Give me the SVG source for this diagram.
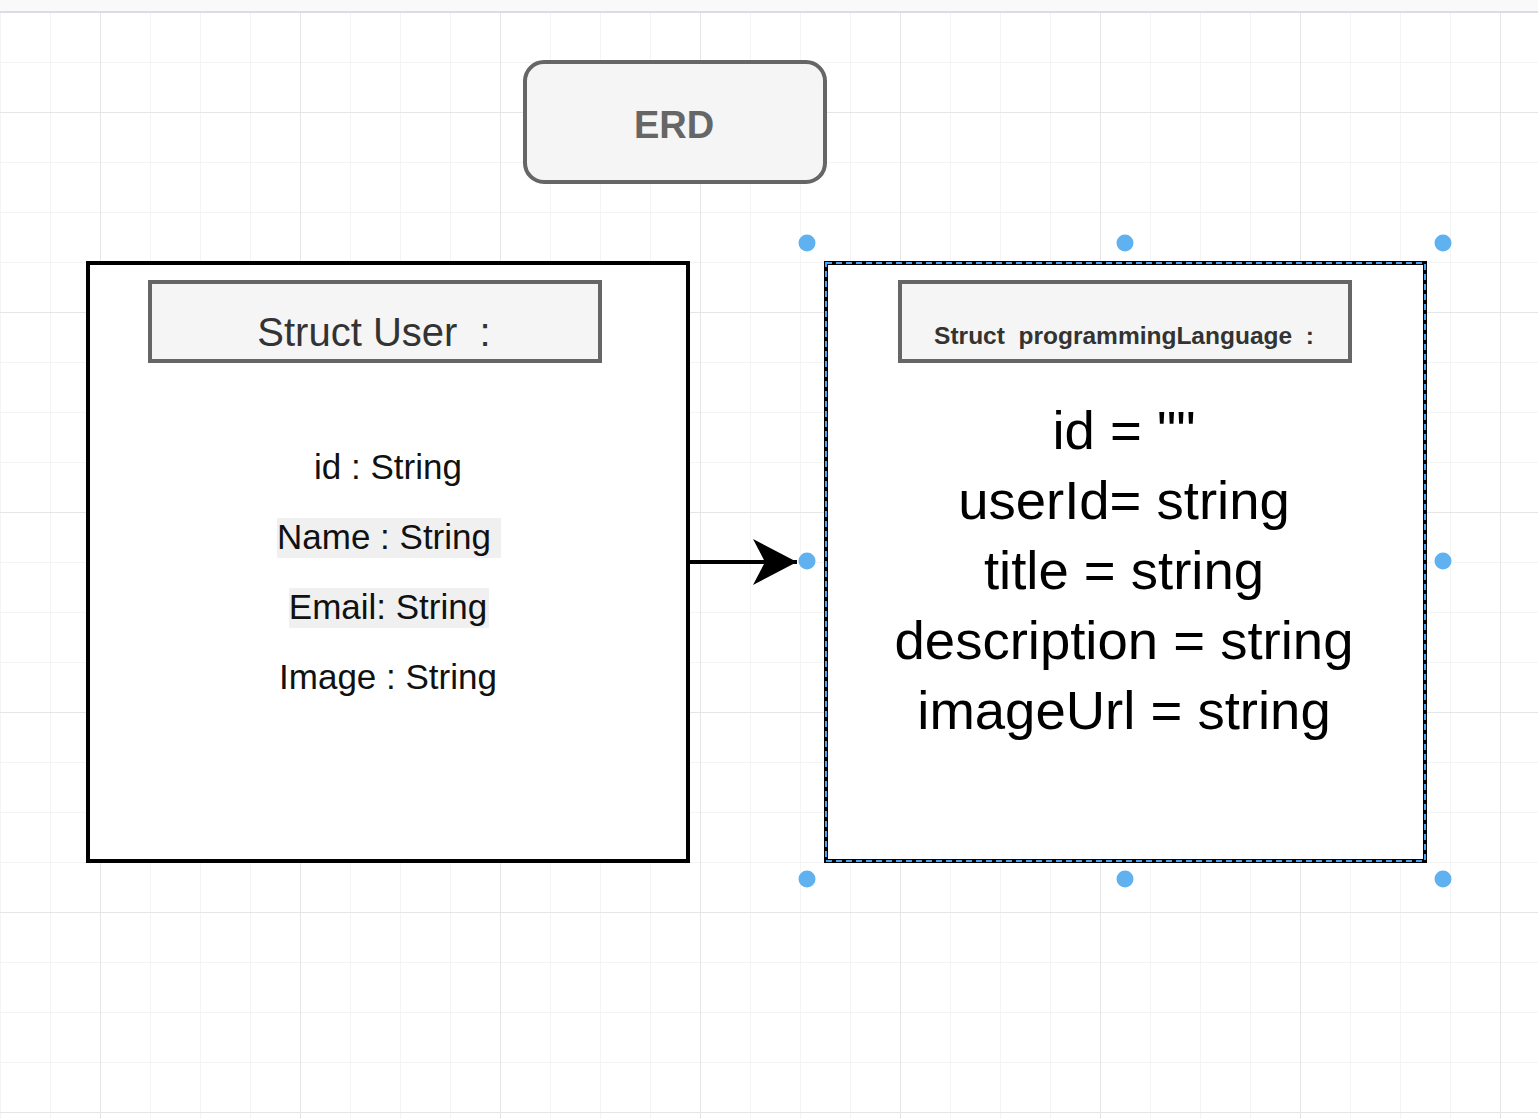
<svg xmlns="http://www.w3.org/2000/svg" width="1538" height="1119" viewBox="0 0 1538 1119">
<style>
.t{font-family:"Liberation Sans",Arial,Helvetica,sans-serif;text-anchor:middle}
.hdr{fill:#f5f5f5;stroke:#666;stroke-width:4}
.box{fill:#fff;stroke:#000;stroke-width:4}
.handle{fill:#5fb1ef}
</style>
<defs>
<pattern id="minor" patternUnits="userSpaceOnUse" x="0" y="12" width="50" height="50">
<path d="M0 0H50M0 0V50" fill="none" stroke="#f4f4f4" stroke-width="2"/>
</pattern>
<pattern id="major" patternUnits="userSpaceOnUse" x="100" y="112" width="200" height="200">
<path d="M0 0H200M0 0V200" fill="none" stroke="#e6e6e6" stroke-width="2"/>
</pattern>
<marker id="arrow" viewBox="0 0 44 46" refX="44" refY="23" markerWidth="44" markerHeight="46" markerUnits="userSpaceOnUse" orient="auto">
<path d="M44 23L0 0L12 23L0 46Z" fill="#000"/>
</marker>
</defs>
<rect width="1538" height="1119" fill="#fff"/>
<rect y="12" width="1538" height="1107" fill="url(#minor)"/>
<rect y="12" width="1538" height="1107" fill="url(#major)"/>
<rect width="1538" height="11" fill="#f9f9fa"/>
<line x1="0" y1="12" x2="1538" y2="12" stroke="#dcdbe2" stroke-width="2"/>

<g id="connectors">
<line x1="690" y1="562" x2="797" y2="562" stroke="#000" stroke-width="4" marker-end="url(#arrow)"/>
</g>

<g id="node-erd">
<rect x="525" y="62" width="300" height="120" rx="19" class="hdr"/>
<text x="674" y="138" class="t" font-size="38" font-weight="bold" fill="#666">ERD</text>
</g>

<g id="node-user">
<rect x="88" y="263" width="600" height="598" class="box"/>
<g id="node-user-header">
<rect x="150" y="282" width="450" height="79" class="hdr"/>
<text x="374" y="346" class="t" font-size="40" fill="#333" xml:space="preserve">Struct User  :</text>
</g>
<rect x="277" y="518" width="224" height="40" fill="#f0f0f0"/>
<rect x="289" y="588" width="200" height="40" fill="#f0f0f0"/>
<g class="t" font-size="35" fill="#111">
<text x="388" y="479">id : String</text>
<text x="384" y="549">Name : String</text>
<text x="388" y="619">Email: String</text>
<text x="388" y="689">Image : String</text>
</g>
</g>

<g id="node-proglang">
<rect x="826" y="263" width="599" height="598" class="box"/>
<rect x="826" y="263" width="599" height="598" fill="none" stroke="#4ba3f0" stroke-width="2" stroke-dasharray="6 4"/>
<g id="node-proglang-header">
<rect x="900" y="282" width="450" height="79" class="hdr"/>
<text x="1124" y="344" class="t" font-size="24.5" font-weight="bold" fill="#333" xml:space="preserve">Struct  programmingLanguage  :</text>
</g>
<g class="t" font-size="54.5" fill="#000">
<text x="1124" y="449">id = &quot;&quot;</text>
<text x="1124" y="519">userId= string</text>
<text x="1124" y="589">title = string</text>
<text x="1124" y="659">description = string</text>
<text x="1124" y="729">imageUrl = string</text>
</g>
<g id="selection-handles">
<circle cx="807" cy="243" r="8.5" class="handle"/>
<circle cx="1125" cy="243" r="8.5" class="handle"/>
<circle cx="1443" cy="243" r="8.5" class="handle"/>
<circle cx="807" cy="561" r="8.5" class="handle"/>
<circle cx="1443" cy="561" r="8.5" class="handle"/>
<circle cx="807" cy="879" r="8.5" class="handle"/>
<circle cx="1125" cy="879" r="8.5" class="handle"/>
<circle cx="1443" cy="879" r="8.5" class="handle"/>
</g>
</g>
</svg>
